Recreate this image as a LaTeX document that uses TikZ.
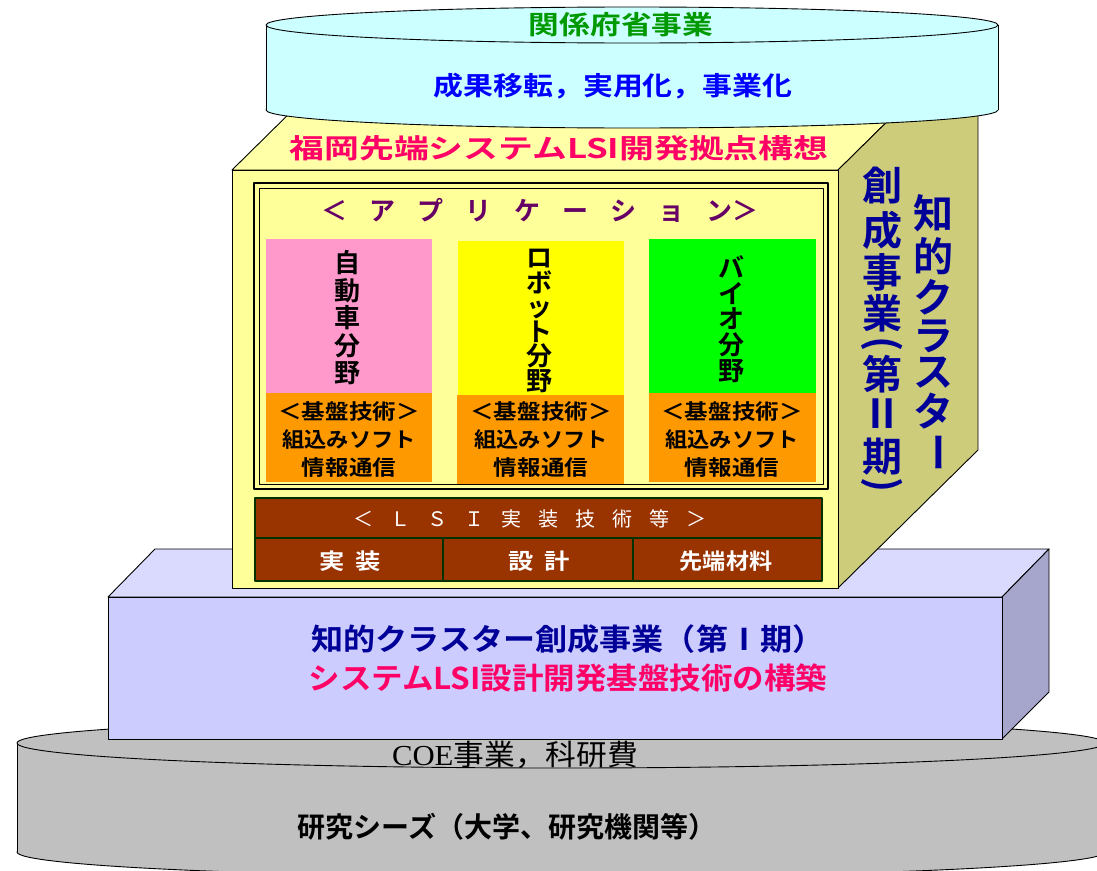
\documentclass[tikz,border=0pt]{standalone}
\usepackage{fontspec}
\setmainfont{Noto Sans CJK JP}[BoldFont={Noto Sans CJK JP Bold}]
\newfontfamily\serifl{Liberation Serif}
\newcommand\fsz[1]{\fontsize{#1}{#1}\selectfont}
\newcommand\hsc[2]{\scalebox{#1}[1]{#2}}
\definecolor{cgreen}{RGB}{0,153,0}
\definecolor{cblue}{RGB}{0,0,255}
\definecolor{cmag}{RGB}{255,0,102}
\definecolor{cpurp}{RGB}{102,0,102}
\definecolor{cnavy}{RGB}{0,0,153}
\definecolor{ccyan}{RGB}{204,255,255}
\definecolor{yfront}{RGB}{255,255,153}
\definecolor{ytop}{RGB}{255,255,168}
\definecolor{yside}{RGB}{204,204,122}
\definecolor{lfront}{RGB}{204,204,255}
\definecolor{ltop}{RGB}{218,218,255}
\definecolor{lside}{RGB}{166,166,204}
\definecolor{cgray}{RGB}{192,192,192}
\definecolor{cpink}{RGB}{255,153,204}
\definecolor{cyell}{RGB}{255,255,0}
\definecolor{cgrn}{RGB}{0,255,0}
\definecolor{corange}{RGB}{255,153,0}
\definecolor{cbrown}{RGB}{153,51,0}
\definecolor{cdkgreen}{RGB}{0,51,0}
\tikzset{
  txt/.style={inner sep=0pt, font=\bfseries},
  vchar/.style={inner sep=0pt, font=\bfseries\fsz{40}, text=cnavy},
  vcol/.style={inner sep=0pt, align=center, font=\bfseries\fontsize{26}{#1}\selectfont},
  orng/.style={inner sep=0pt, font=\bfseries\fsz{21}},
  wht/.style={inner sep=0pt, text=white, font=\bfseries\fsz{22}},
  outl/.style={draw=black, line width=0.9pt},
  lsibox/.style={fill=cbrown, draw=cdkgreen, line width=1.8pt}
}
\begin{document}
\begin{tikzpicture}[x=1pt,y=-1pt,line join=round]
\useasboundingbox (0,0) rectangle (1097,870);

% ---- gray base cylinder
\filldraw[fill=cgray, outl] (561,852) ellipse[x radius=544, y radius=25];
\fill[cgray] (17,743) rectangle (1105,852);
\draw[outl] (17,743) -- (17,852);
\filldraw[fill=cgray, outl] (561,743) ellipse[x radius=544, y radius=25];

% ---- lavender box
\filldraw[fill=ltop, outl] (108,597) -- (155,549) -- (1049,549) -- (1002,597) -- cycle;
\filldraw[fill=lside, outl] (1002,597) -- (1049,549) -- (1049,692) -- (1002,739) -- cycle;
\filldraw[fill=lfront, outl] (108,597) rectangle (1002,739);

% ---- yellow box
\filldraw[fill=ytop, outl] (232,170) -- (372,32) -- (978,32) -- (838,170) -- cycle;
\filldraw[fill=yside, outl] (838,170) -- (978,32) -- (978,450) -- (838,588) -- cycle;
\filldraw[fill=yfront, outl] (232,170) rectangle (838,588);

% inner application frame
\draw[line width=2.6pt] (254,183) rectangle (828,489);
\draw[line width=0.9pt] (259,188) rectangle (823,484);

% coloured fields
\fill[cpink] (266,239) rectangle (432,393);
\fill[corange] (266,393) rectangle (432,482);
\fill[cyell] (458,241) rectangle (624,395);
\fill[corange] (457,395) rectangle (624,484);
\fill[cgrn] (649,239) rectangle (816,393);
\fill[corange] (649,393) rectangle (816,482);

% LSI boxes
\filldraw[lsibox] (255,498) rectangle (822,538);
\filldraw[lsibox] (255,538) rectangle (443,581);
\filldraw[lsibox] (443,538) rectangle (633,581);
\filldraw[lsibox] (633,538) rectangle (822,581);

% ---- cyan top cylinder
\filldraw[fill=ccyan, outl] (632,110) ellipse[x radius=366, y radius=18];
\fill[ccyan] (266,25) rectangle (998,110);
\draw[outl] (266,25) -- (266,110) (998,25) -- (998,110);
\filldraw[fill=ccyan, outl] (632,25) ellipse[x radius=366, y radius=18];

% ---- texts
\node[txt, text=cgreen, font=\bfseries\fsz{26}] (kankei) at (621,25) {\hsc{1.18}{関係府省事業}};
\node[txt, text=cblue, font=\bfseries\fsz{26}] (seika) at (613,86) {\hsc{1.15}{成果移転，実用化，事業化}};
\node[txt, text=cmag, font=\bfseries\fsz{27}] (fukuoka) at (559,148) {\hsc{1.29}{福岡先端システムLSI開発拠点構想}};
\node[txt, text=cpurp, font=\bfseries\fsz{26}] (app) at (540,210)
  {＜\hspace{0.85em}ア\hspace{0.85em}プ\hspace{0.85em}リ\hspace{0.85em}ケ\hspace{0.85em}ー\hspace{0.85em}シ\hspace{0.85em}ョ\hspace{0.85em}ン＞};

\node[vcol=27.5] (jido) at (347,318) {自\\動\\車\\分\\野};
\node[vcol=24.5] (robot) at (539,321) {ロ\\ボ\\ッ\\ト\\分\\野};
\node[vcol=25.6] (bio) at (731,319) {バ\\イ\\オ\\分\\野};

\foreach \cx/\nm in {349/a,541/b,732/c}{
  \node[orng] (kiban\nm) at (\cx,412) {\hsc{1.12}{＜基盤技術＞}};
  \node[orng] (kumi\nm) at (\cx,440) {\hsc{1.06}{組込みソフト}};
  \node[orng] (joho\nm) at (\cx,468) {\hsc{1.12}{情報通信}};
}

\node[inner sep=0pt, text=white, font=\fsz{20}] (lsi) at (530,519)
  {＜\hspace{0.85em}Ｌ\hspace{0.85em}Ｓ\hspace{0.85em}Ｉ\hspace{0.85em}実\hspace{0.85em}装\hspace{0.85em}技\hspace{0.85em}術\hspace{0.85em}等\hspace{0.85em}＞};
\node[wht] (jisso) at (350,561) {\hsc{1.15}{実\hspace{0.4em}装}};
\node[wht] (sekkei) at (539,561) {\hsc{1.15}{設\hspace{0.4em}計}};
\node[wht] (sentan) at (726,561) {\hsc{1.05}{先端材料}};

% right face vertical texts
\node[vchar] (r1) at (882,186) {創};
\node[vchar] (r2) at (882,230) {成};
\node[vchar] (r3) at (882,272) {事};
\node[vchar] (r4) at (882,313) {業};
\node[vchar, rotate=-90] (r5) at (882,344) {(};
\node[vchar] (r6) at (882,374) {第};
\node[vchar] (r7) at (882,414) {Ⅱ};
\node[vchar] (r8) at (882,457) {期};
\node[vchar, rotate=-90] (r9) at (882,485) {)};
\node[vchar] (s1) at (933,213) {知};
\node[vchar] (s2) at (933,256) {的};
\node[vchar] (s3) at (933,297) {ク};
\node[vchar] (s4) at (933,336) {ラ};
\node[vchar] (s5) at (933,373) {ス};
\node[vchar] (s6) at (933,411) {タ};
\node[vchar, rotate=-90] (s7) at (933,452) {ー};

% lavender texts
\node[txt, text=cnavy, font=\bfseries\fsz{30}] (chiteki1) at (568,639) {\hsc{1.07}{知的クラスター創成事業（第Ⅰ期）}};
\node[txt, text=cmag, font=\bfseries\fsz{30}] (system) at (568,678) {\hsc{1.05}{システムLSI設計開発基盤技術の構築}};

% gray texts
\node[inner sep=0pt, font=\fsz{29}] (coe) at (515,755) {\hsc{1.06}{{\serifl COE}事業，科研費}};
\node[txt, font=\bfseries\fsz{28}] (seeds) at (507,827) {研究シーズ（大学、研究機関等）};
\end{tikzpicture}
\end{document}
